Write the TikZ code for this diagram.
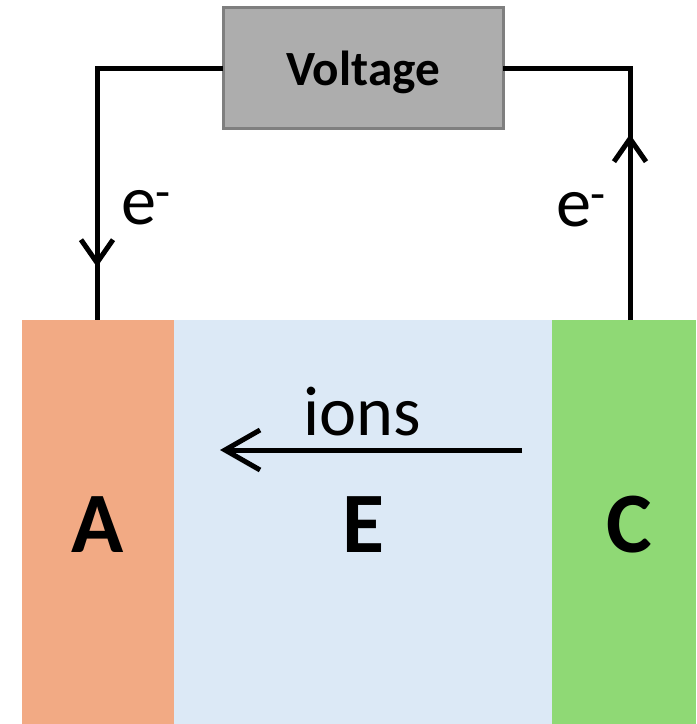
\documentclass[tikz,border=0pt]{standalone}
\usepackage{fontspec}
\setmainfont{Carlito}
\usepackage{xcolor}
\usepackage{tikz}
\usetikzlibrary{arrows.meta, positioning, decorations.markings}

\definecolor{anodeorange}{HTML}{F2AA84}
\definecolor{electroblue}{HTML}{DCE9F6}
\definecolor{cathodegreen}{HTML}{8FD975}
\definecolor{voltgray}{HTML}{ADADAD}
\definecolor{voltedge}{HTML}{7F7F7F}

\tikzset{
    wiretip/.tip={Straight Barb[length=4.6mm, width=6.4mm]},
    iontip/.tip={Straight Barb[length=7mm, width=8mm]},
}

\begin{document}
\begin{tikzpicture}[x=0.2mm, y=-0.2mm, every node/.style={inner sep=0pt, outer sep=0pt},
    layer/.style={minimum height=80.8mm},
    wire/.style={line width=1mm},
    bigletter/.style={font=\fontsize{49}{49}\selectfont\bfseries},
    elabel/.style={font=\fontsize{40}{40}\selectfont}]
    \useasboundingbox (0,0) rectangle (696,724);

    % cell layers
    \node[layer, fill=anodeorange, minimum width=30.4mm] (anode) at (98,522) {};
    \node[layer, fill=electroblue, minimum width=75.6mm] (electrolyte) [right=0pt of anode] {};
    \node[layer, fill=cathodegreen, minimum width=28.8mm] (cathode) [right=0pt of electrolyte] {};

    \node[bigletter, anchor=base] (alabel) at (98,552) {A};
    \node[bigletter, anchor=base] (elabelmid) at (363,552) {E};
    \node[bigletter, anchor=base] (clabel) at (629,552) {C};

    % voltage source
    \node[draw=voltedge, fill=voltgray, line width=0.6mm, minimum width=56mm, minimum height=24mm,
          text depth=0pt, font=\fontsize{28}{28}\selectfont\bfseries] (volt) at (363,68) {Voltage};

    % outer circuit
    \coordinate (atop) at (97,320);
    \coordinate (ctop) at (630,320);
    \draw[wire, postaction={decorate},
          decoration={markings, mark=at position 0.86 with {\arrow{wiretip}}}]
          (volt.west) -| (atop);
    \draw[wire, postaction={decorate},
          decoration={markings, mark=at position 0.49 with {\arrow{wiretip}}}]
          (ctop) |- (volt.east);
    \node[elabel, anchor=base west] (eleft) at (121,224) {e\textsuperscript{-}};
    \node[elabel, anchor=base west] (eright) at (556,226) {e\textsuperscript{-}};

    % ion flow
    \coordinate (ionstart) at (522,450);
    \coordinate (ionend) at (220,450);
    \draw[line width=1mm, -iontip] (ionstart) -- (ionend);
    \node[elabel, font=\fontsize{40}{40}\selectfont, anchor=base] (ions) at (362,435) {ions};
\end{tikzpicture}
\end{document}
